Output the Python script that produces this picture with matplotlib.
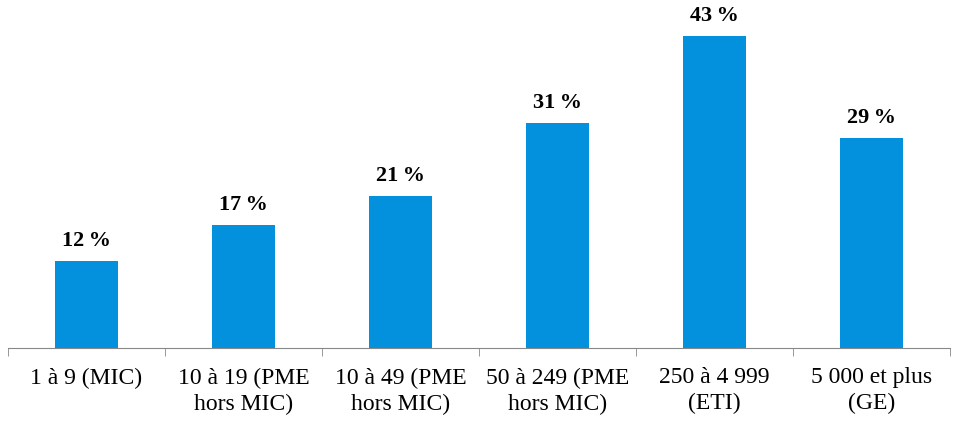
import matplotlib.pyplot as plt
import numpy as np

plt.rcParams['font.family'] = ['Liberation Serif', 'DejaVu Serif']

categories = ['1 à 9 (MIC)', '10 à 19 (PME\nhors MIC)', '10 à 49 (PME\nhors MIC)',
              '50 à 249 (PME\nhors MIC)', '250 à 4 999\n(ETI)', '5 000 et plus\n(GE)']
values = [12, 17, 21, 31, 43, 29]

fig = plt.figure(figsize=(9.57, 4.21), dpi=100)
ax = fig.add_axes([8 / 957, 73 / 421, 942 / 957, 348 / 421])

x = np.arange(len(categories))
ax.bar(x, values, width=0.4, color='#0391DD')

for xi, v in zip(x, values):
    ax.annotate(f'{v}\u2009%', (xi, v), xytext=(0, 7), textcoords='offset points',
                ha='center', va='bottom', fontsize=16, fontweight='bold')

ax.set_xlim(-0.5, len(categories) - 0.5)
ax.set_ylim(0, 47.96)
ax.set_yticks([])
for s in ['top', 'right', 'left']:
    ax.spines[s].set_visible(False)
ax.spines['bottom'].set_color('#888888')

ax.set_xticks(x)
ax.set_xticklabels(categories, fontsize=17, linespacing=1.3)
ax.set_xticks(np.arange(len(categories) + 1) - 0.5, minor=True)
ax.tick_params(axis='x', which='major', length=0, pad=14)
ax.tick_params(axis='x', which='minor', length=6, color='#888888', direction='out')

fig.savefig('out.png', dpi=100)
